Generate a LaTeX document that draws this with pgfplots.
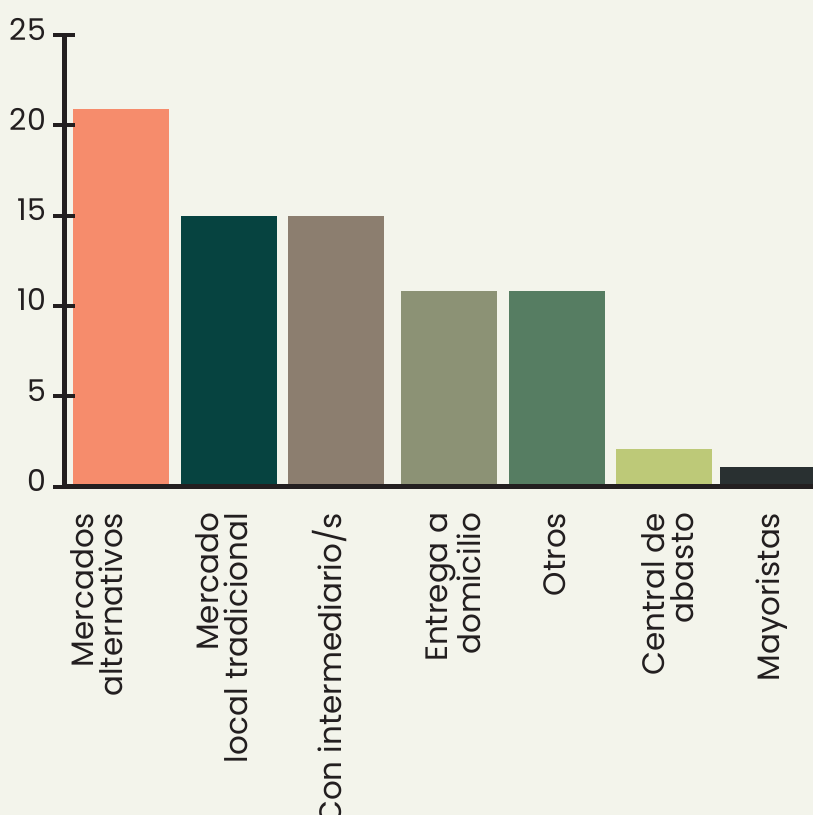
\documentclass[border=0pt]{standalone}
\usepackage{fontspec}
\setmainfont{Poppins}
\usepackage{pgfplots}
\pgfplotsset{compat=1.18}
\usetikzlibrary{backgrounds}

\definecolor{bg}{HTML}{F3F4EB}
\definecolor{axc}{HTML}{231F20}
\definecolor{cA}{HTML}{F68C6C}
\definecolor{cB}{HTML}{064340}
\definecolor{cC}{HTML}{8C7E6F}
\definecolor{cD}{HTML}{8C9275}
\definecolor{cE}{HTML}{567D62}
\definecolor{cF}{HTML}{BDC978}
\definecolor{cG}{HTML}{293031}

\begin{document}
\begin{tikzpicture}
\begin{axis}[
  scale only axis, width=748.8pt, height=451.5pt,
  xmin=-0.53, xmax=6.435, ymin=0, ymax=25,
  axis x line=bottom, axis y line=left,
  axis line style={draw=axc, line width=5pt, -},
  axis on top,
  ytick={0,5,...,25},
  xtick={-0.225,0.937,1.942,3.086,4.035,5.086,6.054},
  xticklabels={{Mercados\\alternativos},{Mercado\\local tradicional},{Con intermediario/s},{Entrega a\\domicilio},{Otros},{Central de\\abasto},{Mayoristas}},
  x tick style={draw=none},
  y tick style={draw=axc, line width=4pt},
  major tick length=21.6pt, tick align=center,
  /pgf/number format/assume math mode=true,
  yticklabel style={font=\fontsize{30}{30}\selectfont, text=axc, anchor=east, xshift=-4pt, yshift=6pt},
  xticklabel style={font=\fontsize{31}{29}\selectfont, text=axc, rotate=90, anchor=east, align=right, xshift=-12pt},
]
% bars
\addplot[ybar, bar width=0.893, bar shift=0pt, fill=cA, draw=none] coordinates {(0,20.9)};
\addplot[ybar, bar width=0.893, bar shift=0pt, fill=cB, draw=none] coordinates {(1,15)};
\addplot[ybar, bar width=0.893, bar shift=0pt, fill=cC, draw=none] coordinates {(2,15)};
\addplot[ybar, bar width=0.893, bar shift=0pt, fill=cD, draw=none] coordinates {(3.05,10.8)};
\addplot[ybar, bar width=0.893, bar shift=0pt, fill=cE, draw=none] coordinates {(4.05,10.8)};
\addplot[ybar, bar width=0.893, bar shift=0pt, fill=cF, draw=none] coordinates {(5.05,2.1)};
\addplot[ybar, bar width=0.893, bar shift=0pt, fill=cG, draw=none] coordinates {(6.02,1.1)};
\coordinate (O) at (rel axis cs:0,0);
\end{axis}
\pgfresetboundingbox
\path[use as bounding box] ([xshift=-64.2pt,yshift=-328.5pt]O) rectangle ([xshift=748.8pt,yshift=486.5pt]O);
\begin{scope}[on background layer]
  \fill[bg] ([xshift=-64.2pt,yshift=-328.5pt]O) rectangle ([xshift=748.8pt,yshift=486.5pt]O);
\end{scope}
\end{tikzpicture}
\end{document}
